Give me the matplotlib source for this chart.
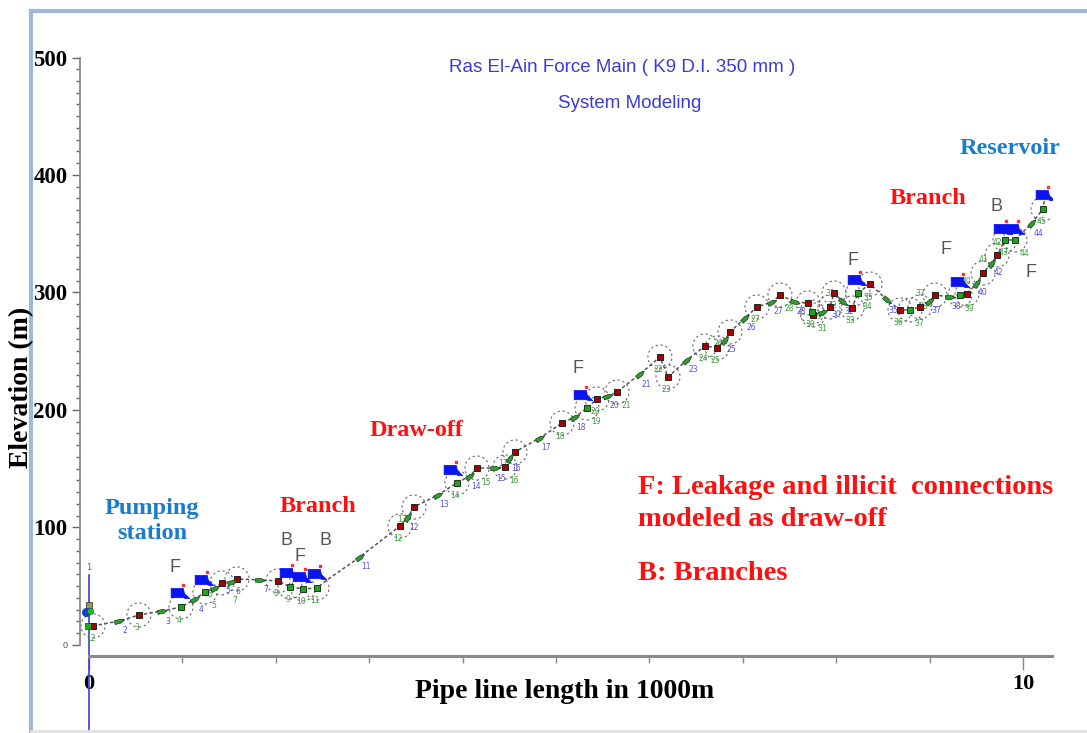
import math

import matplotlib
matplotlib.use("Agg")
import matplotlib.pyplot as plt
from matplotlib.lines import Line2D
from matplotlib.markers import MarkerStyle
from matplotlib.path import Path
from matplotlib.transforms import Affine2D, offset_copy

# --- profile data -------------------------------------------------------
# vertices of the force main profile (distance in km, elevation in m)
# kind: R = junction, G = demand node, A = pipe (flow arrow), V = bend
dist_km = [
    0.043, 0.321, 0.535, 0.781, 0.985, 1.135, 1.242, 1.349, 1.424, 1.531,
    1.585, 1.831, 2.024, 2.152, 2.291, 2.441, 2.548, 2.901, 3.330, 3.415,
    3.480, 3.737, 3.940, 4.079, 4.154, 4.347, 4.454, 4.507, 4.561, 4.829,
    5.064, 5.203, 5.332, 5.439, 5.557, 5.653, 5.899, 6.113, 6.199, 6.403,
    6.595, 6.724, 6.809, 6.863, 7.024, 7.152, 7.313, 7.398, 7.559, 7.698,
    7.741, 7.752, 7.859, 7.934, 7.976, 8.073, 8.169, 8.233, 8.362, 8.544,
    8.683, 8.790, 8.897, 9.004, 9.058, 9.218, 9.325, 9.400, 9.507, 9.572,
    9.668, 9.722, 9.807, 9.914, 10.096, 10.214, 10.236,
]
elev_m = [
    16.2, 20.4, 25.5, 28.9, 32.3, 39.1, 45.1, 48.5, 52.8, 53.6,
    56.2, 55.3, 54.5, 49.4, 47.7, 48.5, 55.3, 74.9, 101.3, 108.9,
    117.4, 127.7, 137.9, 143.8, 150.6, 150.6, 151.5, 159.1, 164.3, 176.2,
    188.9, 194.0, 201.7, 209.4, 211.9, 215.3, 230.6, 245.1, 228.1, 242.6,
    254.5, 252.8, 259.6, 266.4, 278.3, 287.7, 291.9, 297.9, 291.9, 291.1,
    283.4, 280.9, 283.4, 287.7, 299.6, 291.9, 286.8, 299.6, 307.2, 293.6,
    285.1, 285.1, 287.7, 292.8, 297.9, 296.2, 297.9, 298.7, 308.1, 316.6,
    325.1, 331.9, 344.7, 344.7, 359.1, 371.1, 383.0,
]
kind = [
    "R", "A", "R", "A", "G", "A", "G", "A", "R", "A",
    "R", "A", "R", "G", "G", "G", "V", "A", "R", "A",
    "R", "A", "G", "A", "R", "A", "R", "A", "R", "A",
    "R", "A", "G", "R", "A", "R", "A", "R", "R", "A",
    "R", "R", "A", "R", "A", "R", "A", "R", "A", "R",
    "G", "R", "A", "R", "R", "A", "R", "G", "R", "A",
    "R", "G", "R", "A", "R", "A", "G", "R", "A", "R",
    "A", "R", "G", "G", "A", "G", "V",
]
pipe_ids = ["2", "3", "4", "5", "6", "7", "11", "12", "13", "14", "15", "16",
            "17", "18", "20", "21", "23", "25", "26", "27", "28", "30", "32",
            "35", "37", "38", "40", "42", "44"]
node_ids = ["12", "3", "4", "5", "6", "7", "8", "9", "10", "11",
            "12", "13", "14", "15", "16", "17", "18", "19", "20", "21",
            "22", "23", "24", "25", "26", "27", "28", "29", "30", "31",
            "31", "32", "33", "34", "35", "36", "37", "37", "38", "39",
            "40", "41", "42", "43", "44", "45"]

# draw-off / branch tanks
tank_km = [0.974, 1.231, 2.141, 2.281, 2.441, 3.897, 5.289, 8.223, 9.325,
           9.786, 9.914, 10.236]
tank_m = [44.3, 55.3, 61.3, 57.9, 60.4, 148.9, 212.8, 310.6, 308.9,
          354.0, 354.0, 383.0]

# F / B letters (km, m)
tag_text = ["F", "B", "F", "B", "F", "F", "F", "B", "F"]
tag_km = [0.92, 2.12, 2.26, 2.53, 5.24, 8.18, 9.18, 9.72, 10.09]
tag_m = [65.5, 88.5, 75.7, 88.5, 235.7, 326.8, 337.0, 373.6, 316.6]

# --- styles --------------------------------------------------------------
W, H, DPI = 1087, 733, 100
SERIF = "Liberation Serif"
SANS = "Liberation Sans"
RED = "#ff1010"
SKY = "#1a7ccc"
TITLE_BLUE = "#3b3bd8"
AXIS_GREY = "#8a8a8a"


def fx(px):
    return px / W


def fy(py):
    return 1 - py / H


fig = plt.figure(figsize=(W / DPI, H / DPI), dpi=DPI)
ax = fig.add_axes([fx(80), fy(656), fx(1052) - fx(80), fy(57.5) - fy(656)])
ax.set_xlim(-0.096, 10.31)
ax.set_ylim(-9.4, 500)

# window frame
fig.add_artist(Line2D([fx(31), fx(31)], [fy(11), fy(731)], color="#a3b7d6", lw=3))
fig.add_artist(Line2D([fx(31), 1], [fy(11), fy(11)], color="#a3b7d6", lw=3))
fig.add_artist(Line2D([fx(31), 1], [fy(731), fy(731)], color="#e2e2e2", lw=2))

# axes styling
for side in ("top", "right"):
    ax.spines[side].set_visible(False)
ax.spines["left"].set_bounds(0, 500)
ax.spines["left"].set_color(AXIS_GREY)
ax.spines["left"].set_linewidth(1.3)
ax.spines["bottom"].set_bounds(0, 10.31)
ax.spines["bottom"].set_color(AXIS_GREY)
ax.spines["bottom"].set_linewidth(2.2)

ax.set_yticks(range(0, 501, 100))
ax.set_yticks(range(0, 501, 10), minor=True)
ax.set_yticklabels(["0", "100", "200", "300", "400", "500"])
ax.tick_params(axis="y", which="major", length=6, width=1, color="#666666",
               pad=3, labelsize=16.5)
ax.tick_params(axis="y", which="minor", length=3, width=1, color="#666666")
for lab in ax.get_yticklabels():
    lab.set_fontfamily(SERIF)
    lab.set_fontweight("bold")
zero_lab = ax.get_yticklabels()[0]
zero_lab.set_fontfamily(SANS)
zero_lab.set_fontweight("normal")
zero_lab.set_fontsize(6.5)
zero_lab.set_color("#555555")

ax.set_xticks([0, 10])
ax.set_xticks(range(1, 10), minor=True)
ax.set_xticklabels(["0", "10"])
ax.tick_params(axis="x", which="major", length=10, width=1, color="#888888",
               pad=3, labelsize=16)
ax.tick_params(axis="x", which="minor", length=5, width=1, color="#888888")
for lab in ax.get_xticklabels():
    lab.set_fontfamily(SERIF)
    lab.set_fontweight("bold")

# pump station riser at chainage 0
ax.plot([0, 0], [59.6, -75], color="#3a3ae6", lw=1.2, clip_on=False, zorder=2)
ax.text(0, 62, "1", color="#5555ee", fontsize=6, ha="center", va="bottom")
ax.plot(0.0, 34, "s", ms=5, mfc="#9a9a40", mec="#444444", mew=0.6, zorder=5)
ax.plot(-0.03, 28, "o", ms=5.5, mfc="#1840d0", mec="#1840d0", zorder=5)
ax.plot(0.01, 29, "o", ms=4.5, mfc="#22bb22", mec="#116611", mew=0.5, zorder=6)
ax.plot(-0.01, 16, "s", ms=4.5, mfc="#22aa22", mec="#114411", mew=0.5, zorder=6)

# profile line
ax.plot(dist_km, elev_m, color="#555555", lw=1.1, ls=(0, (2.2, 1.6)), zorder=3)

# dashed rings around nodes
ring_x = [x for x, k in zip(dist_km, kind) if k in "RG"]
ring_y = [y for y, k in zip(elev_m, kind) if k in "RG"]
ax.scatter(ring_x, ring_y, s=300, facecolors="none", edgecolors="#666666",
           linewidths=0.8, linestyles=(0, (2, 2.5)), zorder=2)

# junctions and demand nodes
jx = [x for x, k in zip(dist_km, kind) if k == "R"]
jy = [y for y, k in zip(elev_m, kind) if k == "R"]
ax.plot(jx, jy, "s", ms=4.8, mfc="#a80000", mec="#222222", mew=0.7,
        ls="none", zorder=5)
gx = [x for x, k in zip(dist_km, kind) if k == "G"]
gy = [y for y, k in zip(elev_m, kind) if k == "G"]
ax.plot(gx, gy, "s", ms=4.8, mfc="#22a022", mec="#1a3a1a", mew=0.7,
        ls="none", zorder=5)

# flow arrows on pipes, turned along the local slope
arrow_path = Path([(-1, -0.4), (0.2, -0.4), (1, 0), (0.2, 0.4),
                   (-1, 0.4), (-1, -0.4)])
to_px = ax.transData
for i, k in enumerate(kind):
    if k != "A":
        continue
    p0 = to_px.transform((dist_km[i - 1], elev_m[i - 1]))
    p1 = to_px.transform((dist_km[i + 1], elev_m[i + 1]))
    ang = math.degrees(math.atan2(p1[1] - p0[1], p1[0] - p0[0]))
    m = MarkerStyle(arrow_path, transform=Affine2D().rotate_deg(ang))
    ax.plot(dist_km[i], elev_m[i], marker=m, ms=7, mfc="#2e9e2e",
            mec="#1c3c1c", mew=0.5, ls="none", zorder=5)

# pipe numbers (blue) and node numbers (green); small labels are nudged
# to the first free slot so neighbouring ids do not pile up
placed = []


def free_slot(i, offsets):
    px, py = to_px.transform((dist_km[i], elev_m[i]))
    for ox, oy in offsets:
        cx, cy = px + ox, py + oy
        if all(abs(cx - qx) > 10 or abs(cy - qy) > 8 for qx, qy in placed):
            placed.append((cx, cy))
            return ox, oy
    ox, oy = offsets[0]
    placed.append((px + ox, py + oy))
    return ox, oy


label_jobs = []
for i, lab in zip([i for i, k in enumerate(kind) if k == "A"], pipe_ids):
    label_jobs.append((i, lab, "#5050e0", [(6, -10), (13, -3), (4, -19), (-8, 9)]))
for i, lab in zip([i for i, k in enumerate(kind) if k in "RG"], node_ids):
    label_jobs.append((i, lab, "#3aa03a", [(-2, -13), (9, -14), (-12, -12),
                                           (-2, -22), (0, 13)]))
label_jobs.sort(key=lambda job: job[0])
for i, lab, col, offsets in label_jobs:
    ox, oy = free_slot(i, offsets)
    tr = offset_copy(ax.transData, fig=fig, x=ox, y=oy, units="dots")
    ax.text(dist_km[i], elev_m[i], lab, transform=tr, fontsize=5.5,
            color=col, ha="center", va="center", zorder=4)

# tanks with their small red valve mark
tank_path = Path([(-1, -0.45), (-1, 0.55), (0.3, 0.55), (0.42, 0.0),
                  (1, -0.55), (0.55, -0.55), (0.3, -0.45), (-1, -0.45)])
ax.plot(tank_km, tank_m, marker=MarkerStyle(tank_path), ms=13.5, mfc="#0a14f0",
        mec="#0a14f0", mew=0.5, ls="none", zorder=6)
valve_off = offset_copy(ax.transData, fig=fig, x=3, y=8, units="dots")
ax.plot(tank_km, tank_m, marker="s", ms=2, mfc="#ff3030", mec="#ff3030",
        ls="none", transform=valve_off, zorder=7)

# F / B tags
for t, x, y in zip(tag_text, tag_km, tag_m):
    ax.text(x, y, t, fontsize=13, color="#555555", family=SANS,
            ha="center", va="center", zorder=4)

# titles and axis labels
fig.text(fx(622), fy(68), "Ras El-Ain Force Main ( K9 D.I. 350 mm )",
         color=TITLE_BLUE, family=SANS, fontsize=13.5, ha="center", va="center")
fig.text(fx(630), fy(104), "System Modeling", color=TITLE_BLUE, family=SANS,
         fontsize=13.5, ha="center", va="center")
fig.text(fx(22), fy(387), "Elevation (m)", rotation=90, family=SERIF,
         fontweight="bold", fontsize=20, ha="center", va="center")
fig.text(fx(565), fy(692), "Pipe line length in 1000m", family=SERIF,
         fontweight="bold", fontsize=20, ha="center", va="center")


# call-outs
def callout(px, py, s, color, size=17.5, ha="center"):
    fig.text(fx(px), fy(py), s, color=color, family=SERIF, fontweight="bold",
             fontsize=size, ha=ha, va="center", linespacing=1.25)


callout(152, 521, "Pumping\nstation", SKY)
callout(318, 507, "Branch", RED)
callout(416, 430, "Draw-off", RED)
callout(928, 198, "Branch", RED)
callout(1010, 148, "Reservoir", SKY)
callout(638, 487, "F: Leakage and illicit  connections", RED, size=20.5, ha="left")
callout(638, 520, "modeled as draw-off", RED, size=20.5, ha="left")
callout(638, 574, "B: Branches", RED, size=20.5, ha="left")

fig.savefig("out.png", dpi=DPI)
